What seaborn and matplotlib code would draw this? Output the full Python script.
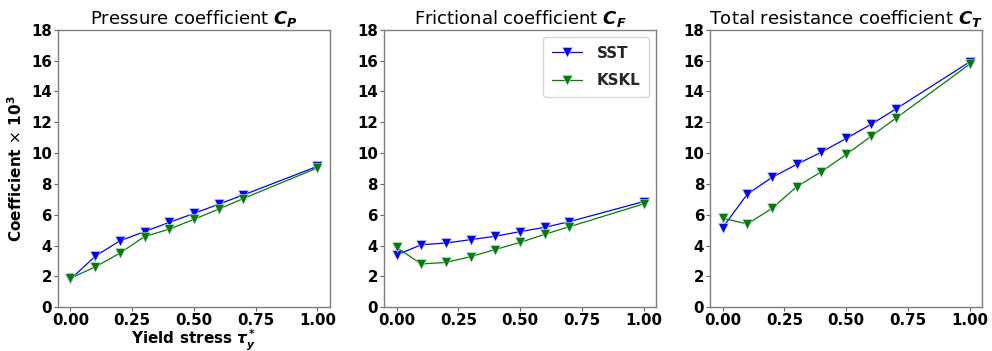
import matplotlib
matplotlib.use("Agg")
import matplotlib.pyplot as plt
import numpy as np
import pandas as pd
import seaborn as sns

# Yield stress values (non-dimensional)
yield_stress = [0.0, 0.1, 0.2, 0.3, 0.4, 0.5, 0.6, 0.7, 1.0]

# Pressure coefficient x 1e3
cp_sst = [1.80, 3.30, 4.30, 4.90, 5.50, 6.08, 6.68, 7.28, 9.14]
cp_kskl = [1.88, 2.60, 3.50, 4.58, 5.06, 5.70, 6.36, 7.05, 9.04]

# Frictional coefficient x 1e3
cf_sst = [3.38, 4.05, 4.16, 4.38, 4.60, 4.90, 5.18, 5.55, 6.85]
cf_kskl = [3.88, 2.80, 2.90, 3.28, 3.74, 4.20, 4.73, 5.22, 6.70]

# Total resistance coefficient x 1e3
ct_sst = [5.16, 7.34, 8.42, 9.27, 10.06, 10.95, 11.86, 12.85, 15.92]
ct_kskl = [5.77, 5.40, 6.41, 7.82, 8.79, 9.91, 11.08, 12.25, 15.77]

models = ["SST", "KSKL"]
titles = [
    r"Pressure coefficient $\mathbfit{C_P}$",
    r"Frictional coefficient $\mathbfit{C_F}$",
    r"Total resistance coefficient $\mathbfit{C_T}$",
]
series = [(cp_sst, cp_kskl), (cf_sst, cf_kskl), (ct_sst, ct_kskl)]
y_ticks = [0, 2, 4, 6, 8, 10, 12, 14, 16, 18]
x_ticks = [0.0, 0.25, 0.5, 0.75, 1.0]

sns.set_style("white")
plt.rcParams["font.family"] = ["DejaVu Sans"]
plt.rcParams["mathtext.fontset"] = "dejavusans"

fig, axes = plt.subplots(1, 3, figsize=(9.92, 3.51), dpi=100)
fig.subplots_adjust(left=0.0585, right=0.99, top=0.915, bottom=0.125, wspace=0.2)

palette = {"SST": "blue", "KSKL": "green"}

for i, (ax, title, (sst, kskl)) in enumerate(zip(axes, titles, series)):
    df = pd.DataFrame({
        "x": yield_stress * 2,
        "y": list(sst) + list(kskl),
        "model": ["SST"] * len(sst) + ["KSKL"] * len(kskl),
    })
    sns.lineplot(data=df, x="x", y="y", hue="model", hue_order=models,
                 palette=palette, marker="v", markersize=7, linewidth=0.9,
                 markeredgecolor="#ddddff", markeredgewidth=0.4,
                 legend=(i == 1), ax=ax)
    ax.set_ylim(0, 18)
    ax.set_xlim(-0.05, 1.05)
    ax.set_yticks(y_ticks)
    ax.set_xticks(x_ticks)
    ax.set_xticklabels([f"{t:.2f}" for t in x_ticks])
    ax.tick_params(axis="both", labelsize=10.8, length=3, width=0.8,
                   color="#666666", labelcolor="black", pad=1.5,
                   left=True, bottom=True)
    for lab in ax.get_xticklabels() + ax.get_yticklabels():
        lab.set_fontweight("bold")
    for sp in ax.spines.values():
        sp.set_color("#7f7f7f")
        sp.set_linewidth(1.0)
    ax.set_title(title, fontsize=13, pad=4, color="black")
    ax.set_xlabel("")
    ax.set_ylabel("")

axes[0].set_xlabel(r"Yield stress $\mathbfit{\tau_y^*}$", fontsize=11,
                   fontweight="bold", labelpad=0, color="black")
axes[0].set_ylabel(r"Coefficient $\times$ $\mathbf{10^3}$", fontsize=11,
                   fontweight="bold", labelpad=4, color="black")

leg = axes[1].legend(loc="upper right", handlelength=2.0,
                     prop={"weight": "bold", "size": 10.8}, frameon=True,
                     borderpad=0.6, labelspacing=0.85, handletextpad=1.0,
                     borderaxespad=0.45)

fig.savefig("out.png", dpi=100)
